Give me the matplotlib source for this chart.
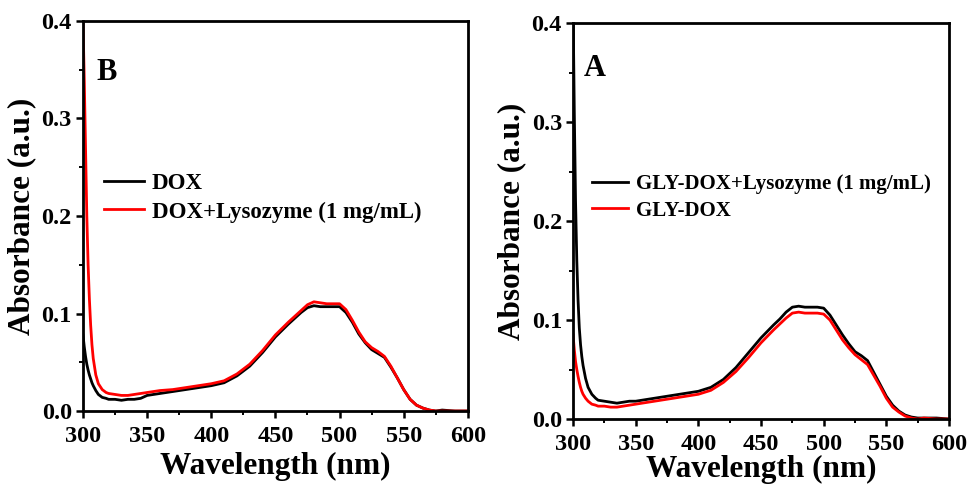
import matplotlib
matplotlib.use("Agg")
import matplotlib.pyplot as plt
from matplotlib.ticker import MultipleLocator

plt.rcParams['font.family'] = ['Liberation Serif', 'DejaVu Serif']
plt.rcParams['font.weight'] = 'bold'

# wavelength grid (nm)
wl = [300, 301, 302, 303, 304, 305, 306, 307, 308, 310, 312, 315, 318, 320,
      325, 330, 335, 340, 345, 350, 360, 370, 380, 390, 400, 410, 420, 430,
      440, 450, 460, 465, 470, 475, 480, 485, 490, 495, 500, 505, 510, 515,
      520, 525, 530, 535, 540, 545, 550, 555, 560, 565, 570, 575, 580, 590, 600]

# panel B
dox = [0.078, 0.066, 0.056, 0.048, 0.042, 0.037, 0.033, 0.029, 0.026, 0.021,
       0.017, 0.014, 0.013, 0.012, 0.012, 0.011, 0.012, 0.012, 0.013, 0.016,
       0.018, 0.020, 0.022, 0.024, 0.026, 0.029, 0.036, 0.046, 0.060, 0.076,
       0.089, 0.095, 0.101, 0.106, 0.108, 0.107, 0.107, 0.107, 0.107, 0.101,
       0.091, 0.079, 0.070, 0.063, 0.059, 0.055, 0.045, 0.034, 0.022, 0.012,
       0.006, 0.003, 0.001, 0.0, 0.001, 0.0, 0.0]
dox_lys = [0.40, 0.34, 0.27, 0.20, 0.15, 0.115, 0.088, 0.068, 0.054, 0.037,
           0.028, 0.022, 0.019, 0.018, 0.017, 0.016, 0.016, 0.017, 0.018, 0.019,
           0.021, 0.022, 0.024, 0.026, 0.028, 0.031, 0.038, 0.048, 0.062, 0.078,
           0.091, 0.097, 0.103, 0.109, 0.112, 0.111, 0.110, 0.110, 0.110, 0.104,
           0.093, 0.081, 0.071, 0.065, 0.061, 0.056, 0.046, 0.034, 0.022, 0.012,
           0.006, 0.003, 0.001, 0.0, 0.0, 0.0, 0.0]

# panel A
gly_dox_lys = [0.42, 0.31, 0.22, 0.16, 0.12, 0.092, 0.075, 0.063, 0.054, 0.041,
               0.032, 0.025, 0.021, 0.019, 0.018, 0.017, 0.016, 0.017, 0.018, 0.018,
               0.020, 0.022, 0.024, 0.026, 0.028, 0.032, 0.040, 0.052, 0.067, 0.082,
               0.095, 0.101, 0.108, 0.113, 0.114, 0.113, 0.113, 0.113, 0.112, 0.105,
               0.095, 0.085, 0.076, 0.068, 0.064, 0.059, 0.047, 0.035, 0.023, 0.014,
               0.008, 0.004, 0.002, 0.001, 0.001, 0.001, 0.0]
gly_dox = [0.085, 0.070, 0.058, 0.050, 0.043, 0.037, 0.032, 0.028, 0.025, 0.021,
           0.018, 0.015, 0.014, 0.013, 0.013, 0.012, 0.012, 0.013, 0.014, 0.015,
           0.017, 0.019, 0.021, 0.023, 0.025, 0.029, 0.037, 0.048, 0.062, 0.077,
           0.090, 0.096, 0.102, 0.107, 0.108, 0.107, 0.107, 0.107, 0.106, 0.100,
           0.090, 0.080, 0.072, 0.065, 0.060, 0.055, 0.044, 0.033, 0.021, 0.012,
           0.007, 0.003, 0.001, 0.0, 0.001, 0.0, 0.0]

fig = plt.figure(figsize=(9.67, 4.87), dpi=100)
axB = fig.add_axes([0.0858, 0.156, 0.398, 0.801])
axA = fig.add_axes([0.5926, 0.1396, 0.3888, 0.813])


def style(ax, xpad):
    ax.set_xlim(300, 600)
    ax.set_ylim(0, 0.4)
    ax.xaxis.set_major_locator(MultipleLocator(50))
    ax.xaxis.set_minor_locator(MultipleLocator(25))
    ax.yaxis.set_major_locator(MultipleLocator(0.1))
    ax.yaxis.set_minor_locator(MultipleLocator(0.05))
    ax.yaxis.set_major_formatter(plt.FormatStrFormatter('%.1f'))
    for sp in ax.spines.values():
        sp.set_linewidth(2.0)
    ax.tick_params(axis='both', which='major', direction='out', length=5,
                   width=1.8, labelsize=17.5, pad=3)
    ax.tick_params(axis='x', which='major', pad=6)
    ax.tick_params(axis='both', which='minor', direction='out', length=3, width=1.4)
    for lbl in ax.get_xticklabels() + ax.get_yticklabels():
        lbl.set_fontweight('bold')
    ax.set_xlabel('Wavelength (nm)', fontsize=22.5, fontweight='bold', labelpad=xpad)
    ax.set_ylabel('Absorbance (a.u.)', fontsize=22.5, fontweight='bold', labelpad=4)


axB.plot(wl, dox, color='black', lw=2.0, label='DOX')
axB.plot(wl, dox_lys, color='#ff0000', lw=2.0, label='DOX+Lysozyme (1 mg/mL)')
style(axB, 3)
axB.text(0.036, 0.849, 'B', transform=axB.transAxes, fontsize=22, fontweight='bold')
axB.legend(loc='upper left', bbox_to_anchor=(0.0, 0.662), frameon=False,
           prop={'size': 16.5, 'weight': 'bold'}, handlelength=1.75,
           handletextpad=0.35, labelspacing=0.3)

axA.plot(wl, gly_dox_lys, color='black', lw=2.0, label='GLY-DOX+Lysozyme (1 mg/mL)')
axA.plot(wl, gly_dox, color='#ff0000', lw=2.0, label='GLY-DOX')
style(axA, 0)
axA.text(0.029, 0.866, 'A', transform=axA.transAxes, fontsize=22, fontweight='bold')
axA.legend(loc='upper left', bbox_to_anchor=(0.0, 0.665), frameon=False,
           prop={'size': 15, 'weight': 'bold'}, handlelength=1.75,
           handletextpad=0.35, labelspacing=0.3)

fig.savefig('out.png', dpi=100)
